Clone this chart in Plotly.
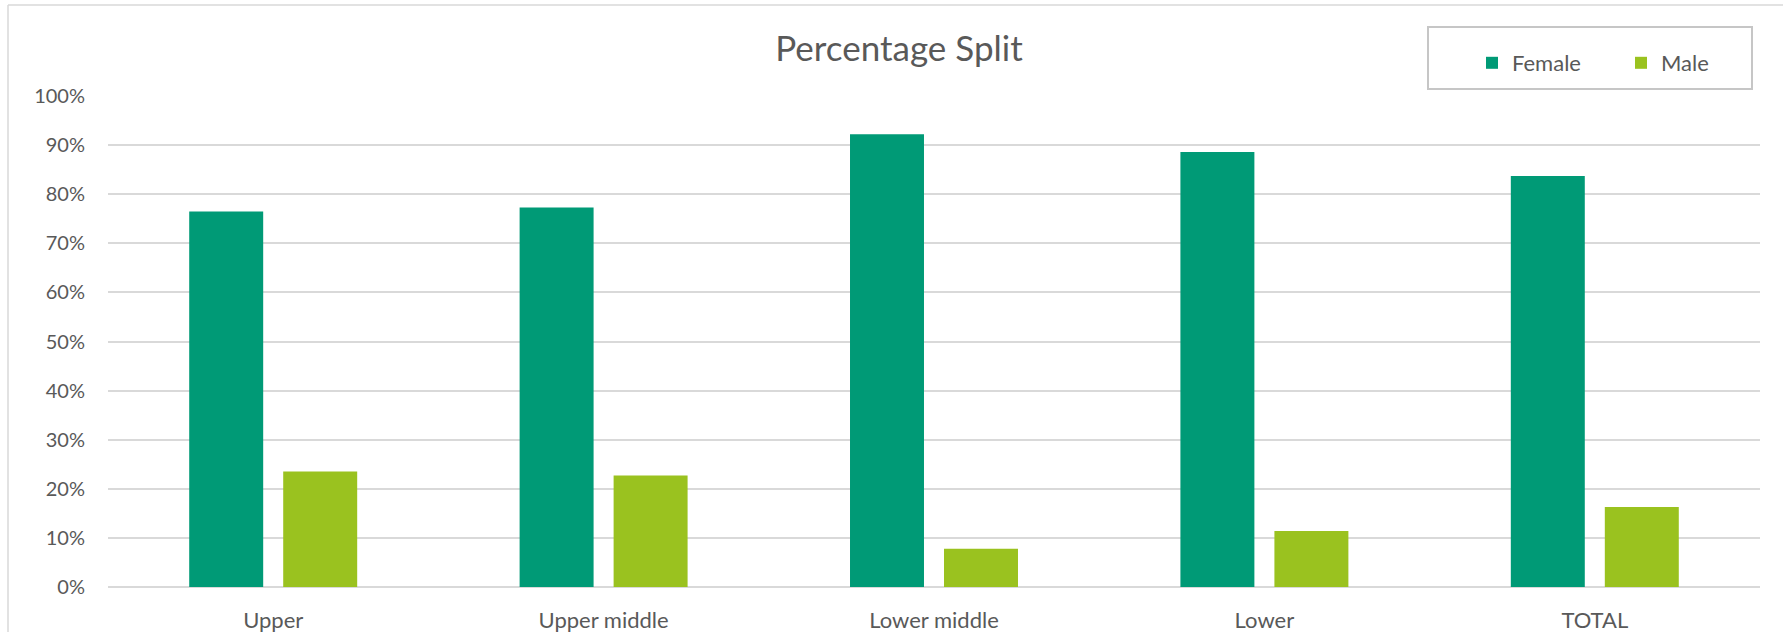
import plotly.graph_objects as go

categories = ["Upper", "Upper middle", "Lower middle", "Lower", "TOTAL"]
female = [0.765, 0.773, 0.922, 0.886, 0.837]
male = [0.235, 0.227, 0.078, 0.114, 0.163]
y_ticks = [0, 0.1, 0.2, 0.3, 0.4, 0.5, 0.6, 0.7, 0.8, 0.9, 1.0]

W, H = 1783, 632
L, R, T, B = 108, 23, 96, 45
PW, PH = W - L - R, H - T - B

def px(x):
    return (x - L) / PW

def py(y):
    return (H - B - y) / PH

FONT = "Lato"
TXT = "#595959"
GRID = "#D9D9D9"

fig = go.Figure()
fig.add_trace(go.Bar(name="Female", x=categories, y=female, marker=dict(color="#009A76", line=dict(width=0))))
fig.add_trace(go.Bar(name="Male", x=categories, y=male, marker=dict(color="#9AC21F", line=dict(width=0))))

fig.update_layout(
    width=W, height=H,
    margin=dict(l=L, r=R, t=T, b=B, pad=0, autoexpand=False),
    paper_bgcolor="white", plot_bgcolor="white",
    barmode="group", bargap=0.431, bargroupgap=0.213,
    font=dict(family=FONT, color=TXT, size=20),
    title=dict(text="Percentage Split", x=899 / W, xanchor="center", xref="container",
               y=1 - 49 / H, yanchor="middle", yref="container",
               font=dict(family=FONT, size=35, color=TXT)),
    showlegend=True,
    legend=dict(orientation="h", xref="container", yref="container",
                x=1472 / W, xanchor="left", y=1 - 42 / H, yanchor="top",
                font=dict(family=FONT, size=22, color=TXT),
                bgcolor="rgba(0,0,0,0)", borderwidth=0,
                entrywidthmode="pixels", entrywidth=104, itemwidth=30),
    xaxis=dict(showgrid=False, showline=False, ticks="", tickfont=dict(size=22, color=TXT),
               ticklabelstandoff=18, fixedrange=True),
    yaxis=dict(range=[0, 1], tickvals=y_ticks, tickformat=".0%", showgrid=True, gridcolor=GRID,
               gridwidth=1.5, zeroline=True, zerolinecolor=GRID, zerolinewidth=1.5, showline=False,
               ticks="", tickfont=dict(size=20, color=TXT), ticklabelstandoff=22, fixedrange=True),
    shapes=[
        dict(type="line", xref="paper", yref="paper", x0=px(8), x1=px(W + 5), y0=py(5), y1=py(5),
             line=dict(color=GRID, width=1.5)),
        dict(type="line", xref="paper", yref="paper", x0=px(8), x1=px(8), y0=py(5), y1=py(H + 5),
             line=dict(color=GRID, width=1.5)),
        dict(type="rect", xref="paper", yref="paper", x0=px(1428), x1=px(1752), y0=py(27), y1=py(89),
             line=dict(color="#C6C6C6", width=2), fillcolor="rgba(0,0,0,0)"),
    ],
)

fig.write_html("out.html")
